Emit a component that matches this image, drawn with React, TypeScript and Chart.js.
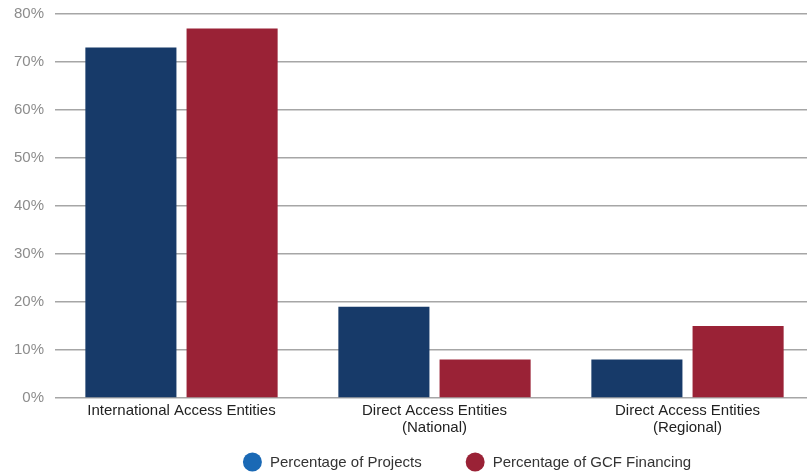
import React, { useEffect, useRef } from "react";
import { Chart, registerables } from "chart.js";

Chart.register(...registerables);

// Entity categories (multi-line labels as arrays)
const categories: string[][] = [
  ["International Access Entities"],
  ["Direct Access Entities", "(National)"],
  ["Direct Access Entities", "(Regional)"],
];

const seriesNames = ["Percentage of Projects", "Percentage of GCF Financing"];
const projectsPct = [73, 19, 8];
const financingPct = [77, 8, 15];

const yMax = 80;
const yStep = 10;

const barColors = ["#173a69", "#9a2236"];
const legendColors = ["#1a69b5", "#9a2236"];

const FONT = '"Liberation Sans", Arial, Helvetica, sans-serif';
const CANVAS_W = 815;
const CANVAS_H = 475;

// Centered legend row with round markers drawn below the axis labels
const dotLegend = {
  id: "dotLegend",
  afterDraw(chart: Chart) {
    const ctx = chart.ctx;
    const centerX = 467;
    const y = 462;
    const r = 9.5;
    const textGap = 8;
    const itemGap = 44;
    ctx.save();
    ctx.font = `15px ${FONT}`;
    ctx.textBaseline = "middle";
    ctx.textAlign = "left";
    const widths = seriesNames.map((t) => r * 2 + textGap + ctx.measureText(t).width);
    const total = widths.reduce((a, b) => a + b, 0) + itemGap * (widths.length - 1);
    let x = centerX - total / 2;
    seriesNames.forEach((name, i) => {
      ctx.beginPath();
      ctx.fillStyle = legendColors[i];
      ctx.arc(x + r, y, r, 0, Math.PI * 2);
      ctx.fill();
      ctx.fillStyle = "#333333";
      ctx.fillText(name, x + r * 2 + textGap, y + 0.5);
      x += widths[i] + itemGap;
    });
    ctx.restore();
  },
};

export default function App() {
  const canvasRef = useRef<HTMLCanvasElement | null>(null);

  useEffect(() => {
    if (!canvasRef.current) return;
    const chart = new Chart(canvasRef.current, {
      type: "bar",
      data: {
        labels: categories,
        datasets: [
          {
            label: seriesNames[0],
            data: projectsPct,
            backgroundColor: barColors[0],
            borderWidth: 0,
            categoryPercentage: 0.8,
            barPercentage: 0.9,
          },
          {
            label: seriesNames[1],
            data: financingPct,
            backgroundColor: barColors[1],
            borderWidth: 0,
            categoryPercentage: 0.8,
            barPercentage: 0.9,
          },
        ],
      },
      options: {
        responsive: false,
        animation: false,
        devicePixelRatio: 1,
        layout: { padding: { top: 14, right: 1, bottom: 34, left: 0 } },
        plugins: {
          legend: { display: false },
          tooltip: { enabled: false },
        },
        scales: {
          x: {
            grid: { display: false, drawTicks: false },
            border: { display: false },
            ticks: {
              color: "#222222",
              font: { family: FONT, size: 15, lineHeight: 1.1 },
              padding: 5,
              maxRotation: 0,
              autoSkip: false,
            },
          },
          y: {
            min: 0,
            max: yMax,
            afterFit: (scale: any) => {
              scale.width = 55;
              scale.paddingTop = 0;
              scale.paddingBottom = 0;
            },
            ticks: {
              stepSize: yStep,
              callback: (v: any) => `${v}%`,
              color: "#8c8c8c",
              font: { family: FONT, size: 15 },
              padding: 11,
            },
            grid: { color: "#a6a6a6", lineWidth: 1.5, drawTicks: false },
            border: { display: false },
          },
        },
      },
      plugins: [dotLegend],
    });
    return () => chart.destroy();
  }, []);

  return (
    <div
      style={{
        position: "fixed",
        left: 0,
        top: 0,
        width: 807,
        height: 475,
        overflow: "hidden",
        background: "#ffffff",
      }}
    >
      <canvas
        ref={canvasRef}
        width={CANVAS_W}
        height={CANVAS_H}
        style={{ display: "block", width: CANVAS_W, height: CANVAS_H }}
      />
    </div>
  );
}
